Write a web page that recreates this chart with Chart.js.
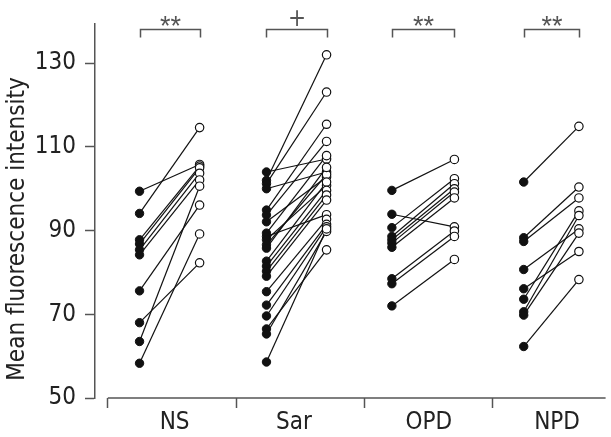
<!DOCTYPE html>
<html lang="en">
<head>
<meta charset="UTF-8">
<title>Mean fluorescence intensity</title>
<script src="https://cdn.jsdelivr.net/npm/chart.js"></script>
<style>
  html, body { margin: 0; padding: 0; background: #fff; }
  #chart { display: block; }
</style>
</head>
<body>
<canvas id="chart" width="611" height="437"></canvas>
<script>
// data (before = filled, after = open), index-paired
const groups = ['NS', 'Sar', 'OPD', 'NPD'];
const marks = ['**', '+', '**', '**'];
const yTicks = [50, 70, 90, 110, 130];
const yTitle = 'Mean fluorescence intensity';

const nsBefore = [99.4, 94.1, 87.8, 86.8, 85.4, 84.2, 75.6, 68.0, 63.5, 58.3];
const nsAfter  = [105.8, 114.6, 105.4, 105.0, 103.7, 102.1, 96.1, 82.3, 100.6, 89.2];

const sarBefore = [104.0, 102.0, 101.2, 100.0, 94.9, 93.7, 92.1, 89.4, 88.6, 87.8, 86.6,
                   85.8, 82.7, 81.5, 80.3, 79.1, 75.4, 72.2, 69.6, 66.5, 65.3, 58.6];
const sarAfter  = [107.1, 132.0, 123.1, 104.0, 115.4, 111.3, 102.8, 107.9, 93.8, 100.8, 103.4,
                   105.1, 101.6, 99.6, 98.5, 97.3, 92.7, 91.5, 90.9, 85.4, 89.8, 90.4];

const opdBefore = [99.6, 93.9, 90.7, 88.6, 87.8, 87.0, 86.0, 78.5, 77.3, 72.0];
const opdAfter  = [107.0, 90.9, 102.4, 101.2, 100.0, 99.2, 97.8, 89.9, 88.6, 83.1];

const npdBefore = [101.6, 88.3, 87.4, 80.7, 76.1, 73.6, 70.6, 69.8, 62.3];
const npdAfter  = [114.9, 100.4, 97.8, 90.4, 85.0, 94.7, 93.6, 89.4, 78.3];

const before = [nsBefore, sarBefore, opdBefore, npdBefore];
const after = [nsAfter, sarAfter, opdAfter, npdAfter];

// x positions (linear scale, one unit per group)
const xPos = [[0.247, 0.715], [1.236, 1.704], [2.213, 2.70], [3.24, 3.67]];
const labelPos = [0.52, 1.45, 2.5, 3.5];

const FONT = "'DejaVu Sans Condensed', 'Liberation Sans Narrow', sans-serif";
const INK = '#222';
const AXIS = '#555';

// x ticks: group boundaries (marks only) and label positions (text only)
const xTickList = [];
groups.forEach(function (g, i) {
  xTickList.push({ value: i, label: '' });
  xTickList.push({ value: labelPos[i], label: g });
});

const datasets = [];
const filled = [];
const open = [];
groups.forEach(function (g, i) {
  before[i].forEach(function (b, k) {
    const a = after[i][k];
    datasets.push({
      type: 'line',
      data: [{ x: xPos[i][0], y: b }, { x: xPos[i][1], y: a }],
      borderColor: '#111',
      borderWidth: 1.2,
      pointRadius: 0,
      fill: false,
      order: 2
    });
    filled.push({ x: xPos[i][0], y: b });
    open.push({ x: xPos[i][1], y: a });
  });
});
datasets.push({
  type: 'scatter', data: filled, pointRadius: 4.2, pointBackgroundColor: '#111',
  pointBorderColor: '#111', pointBorderWidth: 1, order: 1
});
datasets.push({
  type: 'scatter', data: open, pointRadius: 4.2, pointBackgroundColor: '#fff',
  pointBorderColor: '#111', pointBorderWidth: 1.2, order: 0
});

// x axis line starting at the first boundary, y title, brackets and marks
const extras = {
  id: 'extras',
  afterDraw(chart) {
    const ctx = chart.ctx;
    const x = chart.scales.x;
    const area = chart.chartArea;
    ctx.save();
    ctx.strokeStyle = AXIS;
    ctx.lineWidth = 1.5;
    ctx.beginPath();
    ctx.moveTo(x.getPixelForValue(0), area.bottom);
    ctx.lineTo(area.right, area.bottom);
    ctx.stroke();

    // y axis title, sits a bit below the middle of the axis
    ctx.save();
    ctx.translate(18, 229);
    ctx.rotate(-Math.PI / 2);
    ctx.fillStyle = INK;
    ctx.font = '24px ' + FONT;
    ctx.textAlign = 'center';
    ctx.textBaseline = 'middle';
    ctx.fillText(yTitle, 0, 0);
    ctx.restore();

    ctx.fillStyle = '#555';
    ctx.textAlign = 'center';
    ctx.textBaseline = 'alphabetic';
    groups.forEach(function (g, i) {
      const x0 = Math.round(x.getPixelForValue(xPos[i][0])) + 0.5;
      const x1 = Math.round(x.getPixelForValue(xPos[i][1])) + 0.5;
      const top = area.top + 6;
      ctx.beginPath();
      ctx.moveTo(x0, top + 8);
      ctx.lineTo(x0, top);
      ctx.lineTo(x1, top);
      ctx.lineTo(x1, top + 8);
      ctx.stroke();
      if (marks[i] === '+') {
        ctx.font = '24px ' + FONT;
        ctx.fillText(marks[i], (x0 + x1) / 2, top - 3);
      } else {
        ctx.font = "27px 'Liberation Sans', sans-serif";
        ctx.fillText(marks[i], (x0 + x1) / 2, top + 6);
      }
    });
    ctx.restore();
  }
};

new Chart(document.getElementById('chart'), {
  data: { datasets: datasets },
  options: {
    responsive: false,
    animation: false,
    devicePixelRatio: 1,
    layout: { padding: { top: 20, right: 0, left: 0, bottom: 0 } },
    plugins: { legend: { display: false }, tooltip: { enabled: false } },
    scales: {
      x: {
        type: 'linear',
        min: -0.1,
        max: 3.878,
        afterFit: function (scale) { scale.height = 39; },
        afterBuildTicks: function (scale) {
          scale.ticks = xTickList.map(function (t) { return { value: t.value }; });
        },
        border: { display: false },
        grid: {
          drawOnChartArea: false,
          tickLength: 10,
          tickWidth: 1.5,
          tickColor: function (c) {
            return c.tick && Number.isInteger(c.tick.value) ? AXIS : 'rgba(0,0,0,0)';
          }
        },
        ticks: {
          autoSkip: false,
          maxRotation: 0,
          padding: 0,
          color: INK,
          font: { family: FONT, size: 24 },
          callback: function (v, i) { return xTickList[i] ? xTickList[i].label : ''; }
        }
      },
      y: {
        type: 'linear',
        min: 50,
        max: 139.5,
        afterFit: function (scale) { scale.width = 95; },
        afterBuildTicks: function (scale) {
          scale.ticks = yTicks.map(function (v) { return { value: v }; });
        },
        border: { display: true, color: AXIS, width: 1.5 },
        grid: { drawOnChartArea: false, tickLength: 10, tickWidth: 1.5, tickColor: AXIS },
        ticks: {
          padding: 9,
          color: INK,
          font: { family: FONT, size: 24 }
        }
      }
    }
  },
  plugins: [extras]
});
</script>
</body>
</html>
